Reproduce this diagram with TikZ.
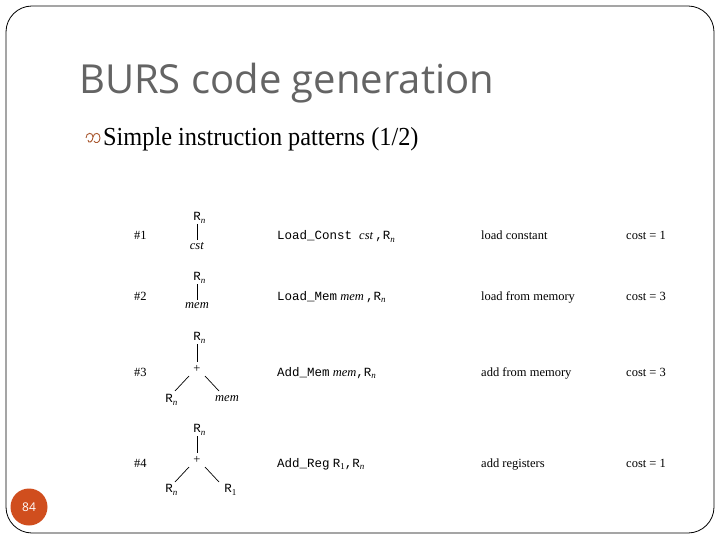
\documentclass[tikz,border=0pt]{standalone}
\usepackage{fontspec}
\setmainfont{Liberation Serif}
\setmonofont{Liberation Mono}
\newfontfamily\titlefont{Open Sans}
\usetikzlibrary{calc}
\definecolor{titlegray}{RGB}{100,100,100}
\definecolor{accent}{RGB}{208,78,30}
\definecolor{bulletc}{RGB}{170,90,50}
\newcommand{\subsz}{\fontsize{9}{10}\selectfont}
\newcommand{\Rn}{\texttt{R}\rlap{\raisebox{-0.4ex}{\subsz\textit{n}}}}
\newcommand{\Rone}{\texttt{R}\rlap{\raisebox{-0.4ex}{\subsz 1}}}
\newcommand{\Rnb}{\texttt{R}\raisebox{-0.4ex}{\subsz\textit{n}}}
\newcommand{\Roneb}{\texttt{R}\raisebox{-0.4ex}{\subsz 1}}
\begin{document}
\begin{tikzpicture}[x=1pt,y=-1pt,
  txt/.style={font=\fontsize{12.5}{15}\selectfont, inner sep=1pt},
  row/.style={txt, anchor=base west},
  tn/.style={txt, inner sep=1.5pt},
  edge/.style={line width=0.7pt}]
\useasboundingbox (0,0) rectangle (720,540);
\fill[white] (0,0) rectangle (720,540);
\draw[line width=0.8pt, rounded corners=26pt] (6,6) rectangle (714,533);
% title
\node[anchor=base west, inner sep=0, text=titlegray, font=\titlefont\fontsize{40}{46}\selectfont] (title) at (79,94) {BURS code generation};
% bullet
\draw[bulletc, line width=0.9pt] (86,138) .. controls (86,132) and (93,132) .. (93,137) .. controls (93,142) and (88,144) .. (88,140)
  (93,137) .. controls (94,132) and (100,132) .. (100,138) .. controls (100,143) and (95,144) .. (94,141);
\node[anchor=base west, inner sep=0, font=\fontsize{26}{30}\selectfont, xscale=0.935] (sub) at (103,146) {Simple instruction patterns (1/2)};
% row labels
\node[row] (n1) at (133,240) {\#1};
\node[row] (n2) at (133,300) {\#2};
\node[row] (n3) at (133,376) {\#3};
\node[row] (n4) at (133,467) {\#4};
% tree 1
\node[tn] (t1) at (197,218) {\Rn};
\node[tn] (l1) at (197,246) {\textit{cst}};
\coordinate (t1b) at (197,224);
\coordinate (l1t) at (197,240);
\draw[edge] (t1b) -- (l1t);
% tree 2
\node[tn] (t2) at (197,278) {\Rn};
\node[tn] (l2) at (197,306) {\textit{mem}};
\coordinate (t2b) at (197,284);
\coordinate (l2t) at (197,300);
\draw[edge] (t2b) -- (l2t);
% tree 3
\node[tn] (t3) at (197,338) {\Rn};
\node[tn] (p3) at (197,369) {+};
\node[tn] (a3) at (169,400) {\Rn};
\node[tn] (b3) at (227,399) {\textit{mem}};
\coordinate (t3b) at (197,344);
\coordinate (p3t) at (197,362);
\draw[edge] (t3b) -- (p3t);
\draw[edge] (189,376) -- (175,391);
\draw[edge] (205,376) -- (219,391);
% tree 4
\node[tn] (t4) at (197,430) {\Rn};
\node[tn] (p4) at (197,460) {+};
\node[tn] (a4) at (169,490) {\Rn};
\node[tn] (b4) at (228,490) {\Rone};
\coordinate (t4b) at (197,436);
\coordinate (p4t) at (197,453);
\draw[edge] (t4b) -- (p4t);
\draw[edge] (189,467) -- (175,482);
\draw[edge] (205,467) -- (219,482);
% code
\node[row] (c1) at (276,240) {\texttt{Load\_Const}\hspace{7pt}\textit{cst}\,\texttt{,}\Rnb};
\node[row] (c2) at (276,300) {\texttt{Load\_Mem} \textit{mem}\,\texttt{,}\Rnb};
\node[row] (c3) at (276,376) {\texttt{Add\_Mem} \textit{mem}\texttt{,}\Rnb};
\node[row] (c4) at (276,467) {\texttt{Add\_Reg} \Roneb\texttt{,}\Rnb};
% description
\node[row] (d1) at (480,240) {load constant};
\node[row] (d2) at (480,300) {load from memory};
\node[row] (d3) at (480,376) {add from memory};
\node[row] (d4) at (480,467) {add registers};
% cost
\node[row] (k1) at (625,240) {cost = 1};
\node[row] (k2) at (625,300) {cost = 3};
\node[row] (k3) at (625,376) {cost = 3};
\node[row] (k4) at (625,467) {cost = 1};
% page number
\node[circle, fill=accent, minimum size=37pt, inner sep=0, text=white, font=\titlefont\fontsize{12}{14}\selectfont] (pg) at (29,507) {84};
\end{tikzpicture}
\end{document}
